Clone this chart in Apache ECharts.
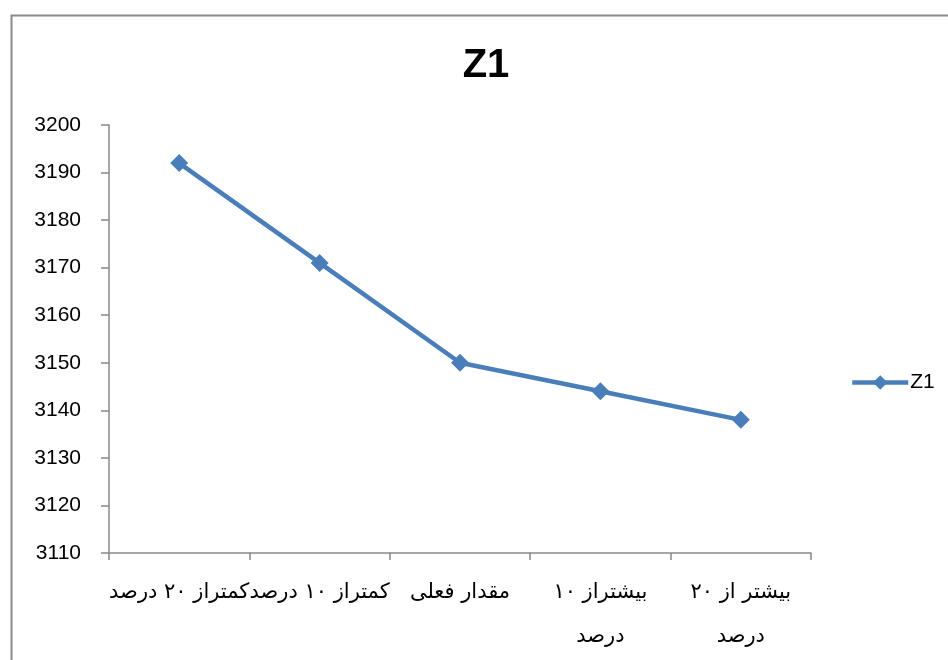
<!DOCTYPE html>
<html><head><meta charset="utf-8">
<script src="https://cdn.jsdelivr.net/npm/echarts@6/dist/echarts.min.js"></script>
<style>html,body{margin:0;padding:0;background:#fff}#c{width:948px;height:660px}</style>
</head><body><div id="c"></div>
<script>
const categories = ["کمتراز ۲۰ درصد", "کمتراز ۱۰ درصد", "مقدار فعلی", "بیشتراز ۱۰\nدرصد", "بیشتر از ۲۰\nدرصد"];
const seriesName = "Z1";
const values = [3192, 3171, 3150, 3144, 3138];
const yMin = 3110, yMax = 3200, yStep = 10;

const chart = echarts.init(document.getElementById('c'), null, {renderer: 'canvas'});
chart.setOption({
  animation: false,
  backgroundColor: '#fff',
  graphic: [{
    type: 'rect', left: 9, top: 13, shape: {width: 1000, height: 1000},
    style: {fill: 'none', stroke: '#8a8a8a', lineWidth: 2}, silent: true
  }],
  title: {
    text: 'Z1', left: 481, top: 41, textAlign: 'center',
    textStyle: {fontFamily: 'Liberation Sans, Arial, sans-serif', fontSize: 40, fontWeight: 'bold', color: '#000'}
  },
  legend: {
    left: 845, top: 367, itemWidth: 56, itemHeight: 18, itemGap: 4,
    lineStyle: {width: 4.5},
    textStyle: {fontFamily: 'Liberation Sans, Arial, sans-serif', fontSize: 21, color: '#000', padding: [0,0,0,-3]},
    data: [seriesName]
  },
  grid: {left: 109, right: 137, top: 125, bottom: 107, containLabel: false},
  xAxis: {
    type: 'category', data: categories, boundaryGap: true,
    axisLine: {lineStyle: {color: '#888', width: 1.5}},
    axisTick: {show: true, alignWithLabel: false, length: 7, lineStyle: {color: '#888', width: 1.5}},
    axisLabel: {interval: 0, margin: 18, fontFamily: 'DejaVu Serif, Liberation Serif, DejaVu Sans, serif', fontSize: 21, color: '#000', lineHeight: 44, verticalAlign: 'top'},
    splitLine: {show: false}
  },
  yAxis: {
    type: 'value', min: yMin, max: yMax, interval: yStep,
    axisLine: {show: true, lineStyle: {color: '#888', width: 1.5}},
    axisTick: {show: true, inside: false, length: 8, lineStyle: {color: '#888', width: 1.5}},
    axisLabel: {margin: 28, fontFamily: 'Liberation Sans, Arial, sans-serif', fontSize: 21, color: '#000', formatter: v => String(v)},
    splitLine: {show: false}
  },
  series: [{
    name: seriesName, type: 'line', data: values,
    symbol: 'diamond', symbolSize: 18,
    lineStyle: {color: '#4a7ebb', width: 4.5},
    itemStyle: {color: '#4a7ebb'}
  }]
});
</script></body></html>
